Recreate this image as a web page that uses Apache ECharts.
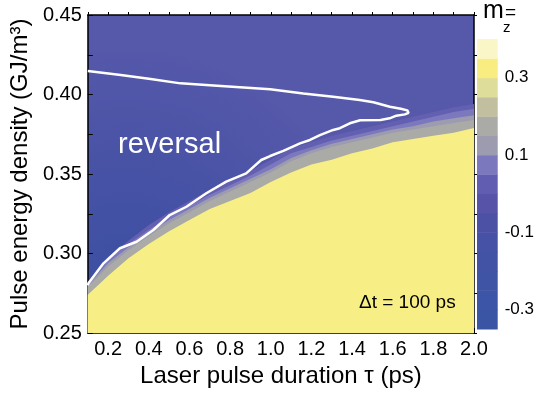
<!DOCTYPE html>
<html>
  <head>
    <meta charset="utf-8" />
    <title>m_z reversal map</title>
    <script src="https://cdn.jsdelivr.net/npm/echarts@6/dist/echarts.min.js"></script>
    <style>
      html, body { margin: 0; padding: 0; background: #fff; }
      #chart { width: 537px; height: 394px; }
    </style>
  </head>
  <body>
    <div id="chart"></div>
    <script type="text/javascript">
      // pulse duration grid (ps)
      var tau = [0.1, 0.2, 0.3, 0.4, 0.5, 0.6, 0.7, 0.8, 0.9, 1.0,
                 1.1, 1.2, 1.3, 1.4, 1.5, 1.6, 1.7, 1.8, 1.9, 2.0];

      // contour boundaries (GJ/m3)
      var lightBlueTop = [0.282, 0.298, 0.308, 0.318, 0.326, 0.333, 0.340, 0.346, 0.352, 0.359,
                          0.366, 0.370, 0.374, 0.377, 0.380, 0.383, 0.386, 0.389, 0.392, 0.394];
      var lavenderTop = [0.281, 0.296, 0.306, 0.315, 0.323, 0.330, 0.337, 0.343, 0.349, 0.356,
                         0.363, 0.367, 0.371, 0.374, 0.377, 0.380, 0.383, 0.386, 0.389, 0.391];
      var grayLavTop = [0.280, 0.294, 0.304, 0.313, 0.321, 0.328, 0.335, 0.341, 0.347, 0.353,
                        0.360, 0.365, 0.369, 0.372, 0.375, 0.378, 0.380, 0.383, 0.385, 0.387];
      var grayTop = [0.279, 0.292, 0.302, 0.311, 0.319, 0.326, 0.333, 0.339, 0.345, 0.351,
                     0.358, 0.363, 0.367, 0.370, 0.373, 0.376, 0.378, 0.380, 0.382, 0.384];
      var yellowTop = [0.274, 0.286, 0.297, 0.306, 0.314, 0.321, 0.328, 0.333, 0.338, 0.345,
                       0.351, 0.356, 0.359, 0.363, 0.366, 0.370, 0.372, 0.374, 0.376, 0.379];

      // white line around the reversal region
      var reversalLine = [
        [0.1, 0.4148], [0.262, 0.4123], [0.409, 0.4097], [0.556, 0.407], [0.736, 0.4055],
        [0.997, 0.4033], [1.16, 0.4007], [1.307, 0.3986], [1.438, 0.3965], [1.505, 0.3951],
        [1.586, 0.3923], [1.64, 0.391], [1.672, 0.39], [1.678, 0.3885], [1.66, 0.3875],
        [1.618, 0.3867], [1.585, 0.385], [1.54, 0.384], [1.44, 0.3838], [1.389, 0.3819],
        [1.34, 0.3788], [1.307, 0.3777], [1.242, 0.3745], [1.193, 0.3714], [1.144, 0.3693],
        [1.062, 0.3645], [0.997, 0.3613], [0.953, 0.3588], [0.879, 0.3504], [0.781, 0.3452],
        [0.683, 0.3379], [0.585, 0.3294], [0.503, 0.3242], [0.422, 0.3148], [0.34, 0.3074],
        [0.258, 0.3033], [0.177, 0.2938], [0.103, 0.2813], [0.1, 0.28]
      ];

      // colour bar levels of m_z
      var cbLevels = [-0.35, -0.3, -0.25, -0.2, -0.15, -0.1, -0.05, 0, 0.05, 0.1,
                      0.15, 0.2, 0.25, 0.3, 0.35, 0.4];
      var cbColors = ["#3b55a5", "#3d55a6", "#3f54a5", "#4253a5", "#4652a5", "#4c51a6",
                      "#5653a8", "#615db0", "#7c78bd", "#9c9bb0", "#aaaaa7", "#c1bfa0",
                      "#dfdd9a", "#f9ec80", "#fbf6c8"];
      var cbLabels = [-0.3, -0.1, 0.1, 0.3];

      var chart = echarts.init(document.getElementById("chart"));

      function band(values) {
        return tau.map(function (x, i) { return [x, values[i]]; });
      }

      function area(name, values, color) {
        return {
          name: name,
          type: "line",
          xAxisIndex: 0,
          yAxisIndex: 0,
          data: band(values),
          symbol: "none",
          silent: true,
          lineStyle: { width: 0 },
          areaStyle: { color: color, opacity: 1, origin: "start" }
        };
      }

      var font = "Liberation Sans, Arial, sans-serif";
      var black = "#000";

      var option = {
        backgroundColor: "#fff",
        animation: false,
        grid: [
          {
            left: 87, top: 15, right: 63, bottom: 61,
            show: true, borderWidth: 0,
            backgroundColor: new echarts.graphic.RadialGradient(0.1, 0.85, 0.75, [
              { offset: 0, color: "#3b4fa2" },
              { offset: 0.45, color: "#4652a5" },
              { offset: 1, color: "#5658aa" }
            ])
          },
          { left: 477, top: 39, right: 37, bottom: 65 }
        ],
        xAxis: [
          {
            gridIndex: 0, type: "value", position: "bottom",
            min: 0.1, max: 2.0, interval: 0.1,
            name: "Laser pulse duration τ (ps)",
            nameLocation: "middle", nameGap: 30,
            nameTextStyle: { fontFamily: font, fontSize: 24, color: black },
            axisLine: { lineStyle: { color: black, width: 1.5 } },
            axisTick: { inside: true, length: 5, lineStyle: { color: black } },
            axisLabel: {
              fontFamily: font, fontSize: 20, color: black, margin: 6,
              formatter: function (v) {
                var k = Math.round(v * 10);
                return k % 2 === 0 ? (k / 10).toFixed(1) : "";
              }
            },
            splitLine: { show: false }
          },
          {
            gridIndex: 0, type: "value", position: "top",
            min: 0.1, max: 2.0, interval: 0.1,
            axisLine: { lineStyle: { color: black, width: 1.5 } },
            axisTick: { inside: false, length: 3, lineStyle: { color: black } },
            axisLabel: { show: false },
            splitLine: { show: false }
          },
          {
            gridIndex: 1, type: "value", min: 0, max: 1, show: false
          }
        ],
        yAxis: [
          {
            gridIndex: 0, type: "value", position: "left",
            min: 0.25, max: 0.45, interval: 0.025,
            name: "Pulse energy density (GJ/m³)",
            nameLocation: "middle", nameGap: 44,
            nameTextStyle: { fontFamily: font, fontSize: 24, color: black },
            axisLine: { lineStyle: { color: black, width: 1.5 } },
            axisTick: { inside: true, length: 5, lineStyle: { color: black } },
            axisLabel: {
              fontFamily: font, fontSize: 20, color: black, margin: 6,
              formatter: function (v) {
                var k = Math.round(v * 1000);
                return k % 50 === 0 ? (k / 1000).toFixed(2) : "";
              }
            },
            splitLine: { show: false }
          },
          {
            gridIndex: 0, type: "value", position: "right",
            min: 0.25, max: 0.45, interval: 0.025,
            axisLine: { show: true, lineStyle: { color: black, width: 1.5 } },
            axisTick: { inside: false, length: 3, lineStyle: { color: black } },
            axisLabel: { show: false },
            splitLine: { show: false }
          },
          {
            gridIndex: 1, type: "value", position: "right",
            min: -0.35, max: 0.4, interval: 0.05,
            axisLine: { show: false },
            axisTick: { show: false },
            splitLine: { show: false },
            axisLabel: {
              fontFamily: font, fontSize: 17, color: black, margin: 7,
              formatter: function (v) {
                for (var i = 0; i < cbLabels.length; i++) {
                  if (Math.abs(v - cbLabels[i]) < 1e-6) return cbLabels[i].toFixed(1);
                }
                return "";
              }
            }
          }
        ],
        series: [
          area("lightBlue", lightBlueTop, "#635fb1"),
          area("lavender", lavenderTop, "#7c78bd"),
          area("grayLav", grayLavTop, "#9c9bb0"),
          area("gray", grayTop, "#aaaaa7"),
          area("yellow", yellowTop, "#f8ee86"),
          {
            name: "reversal",
            type: "line",
            xAxisIndex: 0,
            yAxisIndex: 0,
            data: reversalLine,
            symbol: "none",
            silent: true,
            z: 5,
            lineStyle: { color: "#fff", width: 2.5 }
          },
          {
            name: "colorbar",
            type: "custom",
            xAxisIndex: 2,
            yAxisIndex: 2,
            silent: true,
            data: cbColors.map(function (c, i) { return [0, cbLevels[i], cbLevels[i + 1]]; }),
            encode: { x: 0, y: [1, 2] },
            renderItem: function (params, api) {
              var p0 = api.coord([0, api.value(1)]);
              var p1 = api.coord([1, api.value(2)]);
              return {
                type: "rect",
                shape: { x: p0[0], y: p1[1], width: p1[0] - p0[0], height: p0[1] - p1[1] + 0.5 },
                style: { fill: cbColors[params.dataIndex] }
              };
            }
          }
        ],
        graphic: [
          {
            type: "text", left: 118, top: 130, z: 10, silent: true,
            style: { text: "reversal", fill: "#fff", font: "29px " + font }
          },
          {
            type: "text", left: 359, top: 293, z: 10, silent: true,
            style: { text: "Δt = 100 ps", fill: black, font: "19px " + font }
          },
          {
            type: "text", left: 483, top: -1, z: 10, silent: true,
            style: { text: "m", fill: black, font: "25px " + font }
          },
          {
            type: "text", left: 503, top: 20, z: 10, silent: true,
            style: { text: "z", fill: black, font: "15px " + font }
          },
          {
            type: "text", left: 505, top: 3, z: 10, silent: true,
            style: { text: "=", fill: black, font: "19px " + font }
          }
        ]
      };

      chart.setOption(option);
    </script>
  </body>
</html>
